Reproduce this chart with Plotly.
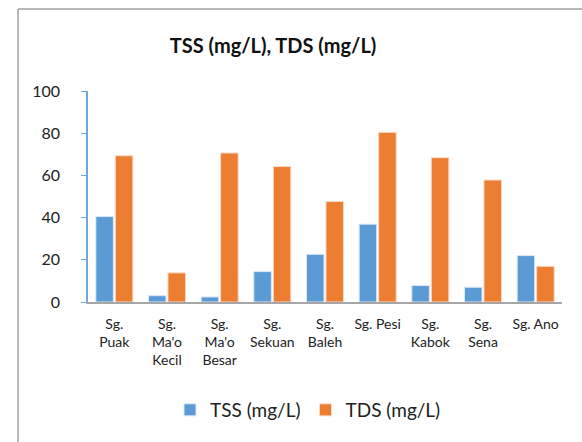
import plotly.graph_objects as go

categories = ["Sg.<br>Puak", "Sg.<br>Ma'o<br>Kecil", "Sg.<br>Ma'o<br>Besar", "Sg.<br>Sekuan",
              "Sg.<br>Baleh", "Sg. Pesi", "Sg.<br>Kabok", "Sg.<br>Sena", "Sg. Ano"]
tss = [40.5, 3.0, 2.4, 14.4, 22.6, 36.9, 7.8, 7.0, 22.0]
tds = [69.3, 13.8, 70.6, 64.2, 47.6, 80.4, 68.4, 57.8, 16.9]
y_ticks = [0, 20, 40, 60, 80, 100]

W, H = 582, 442
L, R, T, B = 88, 20, 91, 140
pw, ph = W - L - R, H - T - B

def px_x(p):
    return (p - L) / pw

def px_y(p):
    return (H - B - p) / ph

fig = go.Figure()
fig.add_trace(go.Bar(x=categories, y=tss, name="TSS (mg/L)",
                     marker=dict(color="#5B9BD5", line=dict(color="#dbe8f5", width=1))))
fig.add_trace(go.Bar(x=categories, y=tds, name="TDS (mg/L)",
                     marker=dict(color="#ED7D31", line=dict(color="#f9d9c4", width=1))))

font = "Lato, 'Open Sans', sans-serif"
fig.update_layout(
    width=W, height=H,
    margin=dict(l=L, r=R, t=T, b=B, pad=0),
    paper_bgcolor="white", plot_bgcolor="white",
    barmode="group", bargap=0.26, bargroupgap=0.1,
    font=dict(family=font, color="#222222"),
    title=dict(text="<b>TSS (mg/L), TDS (mg/L)</b>", x=273 / W, xanchor="center",
               y=1 - 46 / H, yanchor="middle", xref="container",
               yref="container", font=dict(size=20, color="#111111")),
    xaxis=dict(showline=True, linecolor="#a6a6a6", linewidth=1.5, ticks="",
               tickfont=dict(size=14), showgrid=False, tickangle=0,
               ticklabelstandoff=8),
    yaxis=dict(range=[0, 100], tickvals=y_ticks, showline=True, linecolor="#6fa8dc",
               linewidth=1.5, ticks="outside", ticklen=5, tickcolor="#6fa8dc",
               tickfont=dict(size=16), showgrid=False, zeroline=False,
               ticklabelstandoff=18),
    showlegend=True,
    legend=dict(orientation="h", x=px_x(308), xanchor="center", y=px_y(410),
                yanchor="middle", font=dict(size=19), bgcolor="rgba(0,0,0,0)"),
    shapes=[
        dict(type="line", xref="paper", yref="paper", x0=px_x(18), x1=px_x(18),
             y0=px_y(9), y1=px_y(450), line=dict(color="#a0a0a0", width=1.5)),
        dict(type="line", xref="paper", yref="paper", x0=px_x(18), x1=px_x(590),
             y0=px_y(9), y1=px_y(9), line=dict(color="#a0a0a0", width=1.5)),
    ],
)

fig.write_html("out.html")
